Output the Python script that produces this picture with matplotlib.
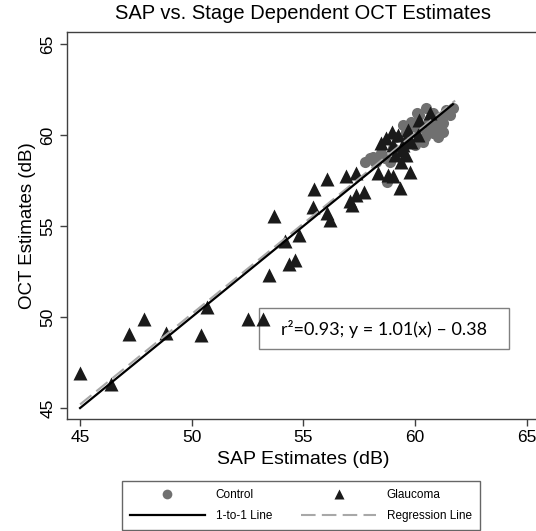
import matplotlib.pyplot as plt
from matplotlib.lines import Line2D
from matplotlib.patches import Rectangle

plt.rcParams['font.family'] = ['Liberation Sans', 'DejaVu Sans']

# glaucoma eyes (SAP, OCT)
glaucoma_sap = [45.0, 46.4, 47.2, 47.85, 48.86, 50.43, 50.7, 52.5, 53.2,
                53.46, 54.35, 54.62, 54.16, 54.8, 53.68, 55.43, 56.08, 56.2,
                55.5, 56.06, 56.9, 57.35, 57.08, 57.2, 57.35, 57.7, 58.35,
                58.79, 59.0, 59.35, 59.77, 59.39, 59.6, 59.1, 58.5, 58.72,
                58.95, 59.24, 59.7, 59.0, 59.47, 59.55, 59.84, 60.14, 60.2,
                60.66, 59.4]
glaucoma_oct = [46.9, 46.3, 49.07, 49.9, 49.15, 49.03, 50.55, 49.9, 49.9,
                52.32, 52.93, 53.15, 54.2, 54.52, 55.53, 56.04, 55.71, 55.35,
                57.05, 57.58, 57.76, 57.94, 56.4, 56.17, 56.72, 56.9, 57.9,
                57.82, 57.73, 57.09, 58.0, 58.55, 58.9, 58.9, 59.56, 59.83,
                60.2, 60.0, 60.3, 59.47, 59.47, 59.74, 59.65, 60.0, 60.84,
                61.2, 59.2]

# control eyes (SAP, OCT)
control_sap = [58.77, 57.75, 58.2, 57.97, 58.27, 58.5, 59.47, 59.84, 60.07,
               60.5, 60.8, 61.1, 61.26, 61.1, 60.8, 60.44, 61.7, 61.4, 59.77,
               59.6, 59.17, 60.36, 60.59, 60.2, 60.9, 61.56, 61.26, 61.04,
               59.99, 59.0, 58.12, 58.65, 58.87, 60.07, 60.66, 60.36]
control_oct = [57.4, 58.55, 58.55, 58.74, 58.55, 59.0, 60.57, 60.75, 61.2,
               61.5, 61.2, 61.0, 60.66, 60.4, 60.1, 59.92, 61.48, 61.4, 60.47,
               60.2, 59.92, 60.4, 60.66, 61.1, 60.75, 61.1, 60.2, 59.92,
               59.47, 59.3, 58.82, 58.74, 58.55, 60.4, 60.3, 59.65]

one_x = [45.0, 61.7]
one_y = [45.0, 61.7]
reg_x = [45.0, 61.8]
reg_y = [45.2, 61.9]

ticks = [45, 50, 55, 60, 65]
fit_label = "r\u00b2=0.93; y = 1.01(x) \u2013 0.38"

fig = plt.figure(figsize=(5.36, 5.31), dpi=100)
ax = fig.add_axes([0.1244, 0.211, 0.883, 0.729])

ax.plot(control_sap, control_oct, 'o', color='#707070', ms=8, mec='none')
ax.plot(glaucoma_sap, glaucoma_oct, '^', color='#1a1a1a', ms=9.5, mec='none')
ax.plot(reg_x, reg_y, color='#a8a8a8', lw=1.5, ls=(0, (7, 3)))
ax.plot(one_x, one_y, color='black', lw=1.6)

ax.set_xlim(44.4, 65.6)
ax.set_ylim(44.4, 65.68)
ax.set_xticks(ticks)
ax.set_yticks(ticks)
ax.tick_params(direction='out', length=5, width=1, color='#404040',
               labelsize=12.5, pad=3)
for lab in ax.get_yticklabels():
    lab.set_rotation(90)
    lab.set_va('center')
for sp in ax.spines.values():
    sp.set_color('#404040')
    sp.set_linewidth(1)

ax.set_xlabel("SAP Estimates (dB)", fontsize=14, labelpad=4)
ax.set_ylabel("OCT Estimates (dB)", fontsize=13.5, labelpad=3)
ax.set_title("SAP vs. Stage Dependent OCT Estimates", fontsize=14.5, pad=9)

# regression annotation box
ax.add_patch(Rectangle((0.407, 0.18), 0.528, 0.106, transform=ax.transAxes,
                       fill=False, edgecolor='#808080', lw=1))
ax.text(0.671, 0.233, fit_label, transform=ax.transAxes, ha='center',
        va='center', fontsize=13, family=['Lato', 'DejaVu Sans'])

handles = [
    Line2D([], [], ls='none', marker='o', color='#707070', ms=7, mec='none'),
    Line2D([], [], color='black', lw=1.6),
    Line2D([], [], ls='none', marker='^', color='#1a1a1a', ms=7, mec='none'),
    Line2D([], [], color='#a8a8a8', lw=1.5, ls=(0, (7, 3))),
]
labels = ["Control", "1-to-1 Line", "Glaucoma", "Regression Line"]
leg = fig.legend(handles, labels, ncol=2, loc='lower left',
                 bbox_to_anchor=(0.2276, 0.002, 0.668, 0.094), mode='expand',
                 fontsize=8.5, frameon=True, fancybox=False, borderpad=0.7,
                 handlelength=6.3, handletextpad=0.93, borderaxespad=0,
                 labelspacing=0.75, columnspacing=1.5)
leg.get_frame().set_edgecolor('#404040')
leg.get_frame().set_linewidth(1)

fig.savefig("out.png", dpi=100)
